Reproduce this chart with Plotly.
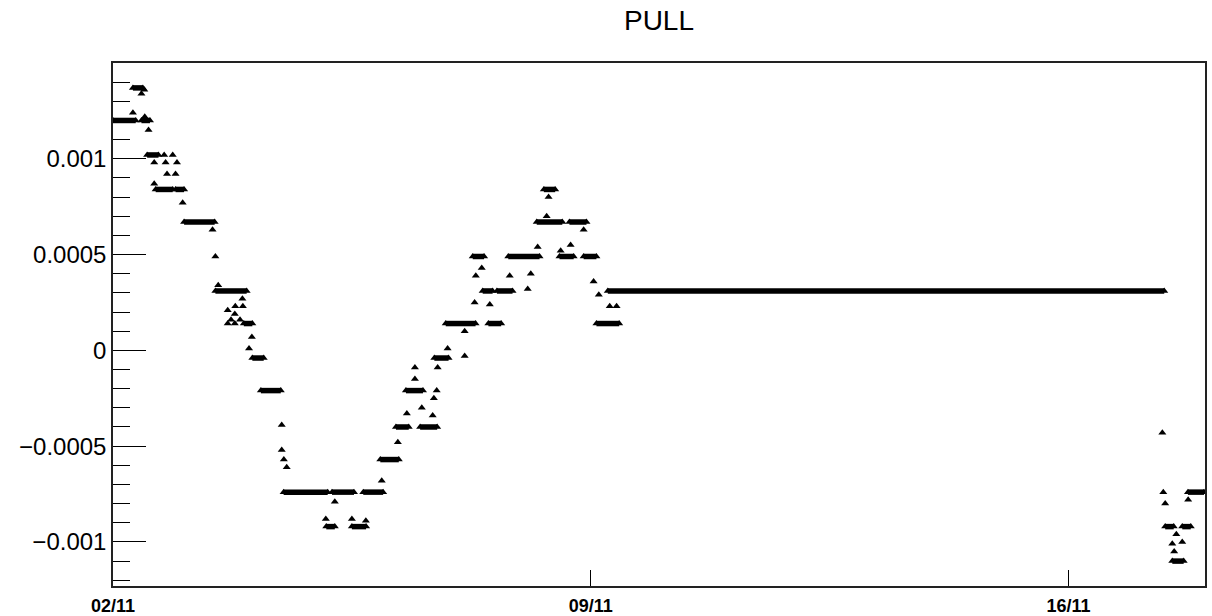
import plotly.graph_objects as go

# Plateaus of the pull value: start time, end time, value
run_start = [
    "2021-11-02 00:00", "2021-11-02 07:00", "2021-11-02 10:00", "2021-11-02 12:00",
    "2021-11-02 15:00", "2021-11-02 22:00", "2021-11-03 01:00", "2021-11-03 12:00",
    "2021-11-03 22:00", "2021-11-04 01:00", "2021-11-04 04:00", "2021-11-04 12:00",
    "2021-11-05 03:00", "2021-11-05 05:00", "2021-11-05 12:00", "2021-11-05 16:00",
    "2021-11-05 22:00", "2021-11-06 03:30", "2021-11-06 07:00", "2021-11-06 12:00",
    "2021-11-06 17:00", "2021-11-06 21:00", "2021-11-07 06:30", "2021-11-07 10:00",
    "2021-11-07 12:00", "2021-11-07 15:00", "2021-11-07 19:00", "2021-11-08 05:00",
    "2021-11-08 07:30", "2021-11-08 13:00", "2021-11-08 16:30", "2021-11-08 21:30",
    "2021-11-09 02:00", "2021-11-09 06:00", "2021-11-17 10:00", "2021-11-17 12:30",
    "2021-11-17 16:00", "2021-11-17 18:00",
]
run_end = [
    "2021-11-02 08:00", "2021-11-02 10:30", "2021-11-02 13:00", "2021-11-02 16:00",
    "2021-11-02 21:00", "2021-11-03 01:00", "2021-11-03 11:45", "2021-11-03 23:00",
    "2021-11-04 01:00", "2021-11-04 05:00", "2021-11-04 11:00", "2021-11-05 03:30",
    "2021-11-05 06:00", "2021-11-05 12:45", "2021-11-05 17:00", "2021-11-05 23:00",
    "2021-11-06 04:30", "2021-11-06 08:00", "2021-11-06 13:00", "2021-11-06 18:00",
    "2021-11-06 22:00", "2021-11-07 07:30", "2021-11-07 10:30", "2021-11-07 13:30",
    "2021-11-07 16:30", "2021-11-07 20:30", "2021-11-08 06:00", "2021-11-08 14:00",
    "2021-11-08 11:30", "2021-11-08 18:00", "2021-11-08 22:30", "2021-11-09 02:00",
    "2021-11-09 10:00", "2021-11-17 09:40", "2021-11-17 13:00", "2021-11-17 16:30",
    "2021-11-17 19:00", "2021-11-17 23:40",
]
run_value = [
    0.00120, 0.00137, 0.00120, 0.00102,
    0.00084, 0.00084, 0.00067, 0.00031,
    0.00014, -0.00004, -0.00021, -0.00074,
    -0.00092, -0.00074, -0.00092, -0.00074,
    -0.00057, -0.00040, -0.00021, -0.00040,
    -0.00004, 0.00014, 0.00049, 0.00031,
    0.00014, 0.00031, 0.00049, 0.00067,
    0.00084, 0.00049, 0.00067, 0.00049,
    0.00014, 0.00031, -0.00092, -0.00110,
    -0.00092, -0.00074,
]

# Single readings between plateaus
pt_time = [
    "2021-11-02 07:00", "2021-11-02 11:00", "2021-11-02 10:00", "2021-11-02 11:10",
    "2021-11-02 12:30", "2021-11-02 18:00", "2021-11-02 21:00", "2021-11-02 14:30",
    "2021-11-02 18:30", "2021-11-02 22:30", "2021-11-02 19:00", "2021-11-02 22:00",
    "2021-11-02 14:30", "2021-11-03 00:30", "2021-11-03 11:00", "2021-11-03 12:00",
    "2021-11-03 13:00", "2021-11-03 21:30", "2021-11-03 19:00", "2021-11-03 21:40",
    "2021-11-03 16:20", "2021-11-03 18:50", "2021-11-03 17:30", "2021-11-03 20:40",
    "2021-11-03 16:20", "2021-11-03 18:50", "2021-11-04 00:50", "2021-11-03 23:50",
    "2021-11-04 11:20", "2021-11-04 11:20", "2021-11-04 12:05", "2021-11-04 13:05",
    "2021-11-05 06:00", "2021-11-05 02:50", "2021-11-05 12:00", "2021-11-05 16:55",
    "2021-11-05 22:30", "2021-11-06 04:10", "2021-11-06 07:20", "2021-11-06 12:35",
    "2021-11-06 16:25", "2021-11-06 10:10", "2021-11-06 10:10", "2021-11-06 18:10",
    "2021-11-06 17:50", "2021-11-06 16:50", "2021-11-06 21:40", "2021-11-07 03:40",
    "2021-11-07 03:40", "2021-11-07 07:10", "2021-11-07 12:30", "2021-11-07 07:35",
    "2021-11-07 09:40", "2021-11-07 19:30", "2021-11-08 02:55", "2021-11-08 01:50",
    "2021-11-08 05:20", "2021-11-08 13:25", "2021-11-08 16:55", "2021-11-08 08:30",
    "2021-11-08 21:30", "2021-11-08 09:10", "2021-11-09 01:00", "2021-11-09 02:50",
    "2021-11-09 06:40", "2021-11-09 09:05", "2021-11-17 09:00", "2021-11-17 09:20",
    "2021-11-17 10:00", "2021-11-17 18:05", "2021-11-17 13:55", "2021-11-17 12:30",
    "2021-11-17 16:00", "2021-11-17 13:10",
]
pt_value = [
    0.00124, 0.00136, 0.00134, 0.00122,
    0.00115, 0.00102, 0.00102, 0.00098,
    0.00098, 0.00098, 0.00092, 0.00092,
    0.00087, 0.00077, 0.00063, 0.00049,
    0.00034, 0.00027, 0.00023, 0.00023,
    0.00021, 0.00019, 0.00016, 0.00016,
    0.00014, 0.00014, 0.00007, 0.00001,
    -0.00039, -0.00052, -0.00057, -0.00061,
    -0.00079, -0.00088, -0.00088, -0.00089,
    -0.00068, -0.00048, -0.00033, -0.00030,
    -0.00034, -0.00009, -0.00015, -0.00009,
    -0.00021, -0.00025, 0.00001, -0.00003,
    0.00010, 0.00025, 0.00024, 0.00039,
    0.00043, 0.00039, 0.00040, 0.00032,
    0.00054, 0.00052, 0.00055, 0.00070,
    0.00063, 0.00080, 0.00036, 0.00029,
    0.00023, 0.00023, -0.00043, -0.00074,
    -0.00080, -0.00078, -0.00096, -0.00101,
    -0.00100, -0.00105,
]

y_tick_vals = [-0.001, -0.0005, 0, 0.0005, 0.001]
y_tick_text = ["\u22120.001", "\u22120.0005", "0", "0.0005", "0.001"]
x_tick_vals = ["2021-11-02", "2021-11-09", "2021-11-16"]
x_tick_text = ["02/11", "09/11", "16/11"]

# Plateaus drawn as thick horizontal strokes, separated by gaps
seg_x, seg_y = [], []
for s, e, v in zip(run_start, run_end, run_value):
    seg_x += [s, e, None]
    seg_y += [v, v, None]

marker_style = dict(symbol="triangle-up", size=7, color="black")

fig = go.Figure()
fig.add_trace(go.Scatter(
    x=seg_x, y=seg_y, mode="lines",
    line=dict(color="black", width=5.5),
    hoverinfo="skip", showlegend=False,
))
fig.add_trace(go.Scatter(
    x=run_start + run_end, y=run_value + run_value, mode="markers",
    marker=marker_style, showlegend=False,
))
fig.add_trace(go.Scatter(
    x=pt_time, y=pt_value, mode="markers",
    marker=marker_style, showlegend=False,
))

fig.update_layout(
    width=1212, height=616,
    margin=dict(l=113, r=7, t=63, b=30),
    paper_bgcolor="white", plot_bgcolor="white",
    font=dict(family="Liberation Sans, Arial, sans-serif", color="black"),
    title=dict(
        text="PULL", x=0.5, xref="paper", xanchor="center",
        y=1 - 20 / 616, yref="container", yanchor="middle",
        font=dict(size=28, color="black"),
    ),
    showlegend=False,
)
fig.update_xaxes(
    type="date", range=["2021-11-02", "2021-11-18"],
    tickvals=x_tick_vals, ticktext=x_tick_text,
    ticks="inside", ticklen=16, tickwidth=1, tickcolor="black",
    tickfont=dict(size=18, weight="bold"),
    ticklabelstandoff=3, automargin=False,
    showgrid=False, zeroline=False,
    showline=True, linecolor="#222", linewidth=1.5, mirror=True,
)
fig.update_yaxes(
    range=[-0.00123, 0.0015],
    tickvals=y_tick_vals, ticktext=y_tick_text,
    ticks="inside", ticklen=33, tickwidth=1, tickcolor="black",
    minor=dict(dtick=0.0001, tick0=0, ticks="inside", ticklen=17,
               tickwidth=1, tickcolor="black", showgrid=False),
    tickfont=dict(size=24), automargin=False,
    showgrid=False, zeroline=False,
    showline=True, linecolor="#222", linewidth=1.5, mirror=True,
)

fig.write_html("out.html")
